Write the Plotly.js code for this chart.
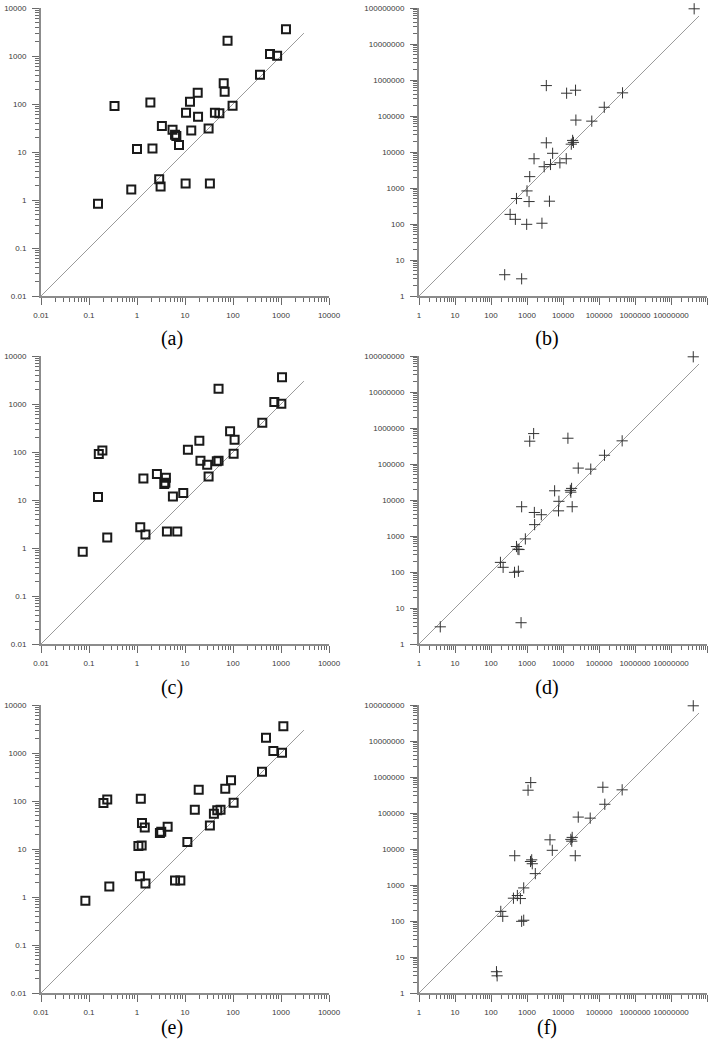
<!DOCTYPE html>
<html>
<head>
<meta charset="utf-8">
<script src="https://cdn.plot.ly/plotly-3.0.1.min.js"></script>
<style>
  html, body { margin: 0; padding: 0; background: #fff; }
  #wrap { position: relative; width: 721px; height: 1049px; overflow: hidden; }
  .panel { position: absolute; }
  .cap {
    position: absolute; transform: translate(-50%, -50%);
    font-family: 'Liberation Serif', 'Times New Roman', serif; font-size: 20px; color: #000;
    line-height: 1; white-space: nowrap;
  }
</style>
</head>
<body>
<div id="wrap"></div>
<script>
// Left column (a, c, e): shared measured values against three estimates
const leftY  = [0.84, 1.65, 1.9, 2.2, 2.2, 2.7, 11.6, 11.8, 14, 21.5, 23, 28, 29, 31, 35, 54, 64, 66, 66, 91, 92, 107, 112, 172, 181, 270, 408, 1016, 1100, 2085, 3590];
const leftXa = [0.154, 0.76, 3.1, 10.3, 33, 2.9, 1.0, 2.1, 7.5, 6.6, 6.2, 13.5, 5.5, 31, 3.3, 18.7, 52, 42, 10.5, 0.34, 98, 1.9, 12.7, 18.4, 67, 64, 365, 830, 590, 77, 1270];
const leftXc = [0.074, 0.24, 1.5, 4.2, 6.9, 1.17, 0.154, 5.6, 9.2, 3.7, 3.9, 1.36, 4.0, 31, 2.6, 29, 46, 50, 21, 0.16, 103, 0.19, 11.5, 19.9, 108, 87, 408, 1016, 726, 50, 1050];
const leftXe = [0.084, 0.265, 1.5, 6.2, 8.0, 1.15, 1.07, 1.25, 11.2, 3.0, 3.2, 1.45, 4.35, 33, 1.27, 40, 47, 55, 16, 0.2, 103, 0.24, 1.2, 19.3, 69, 91, 402, 1050, 692, 487, 1120];

// Right column (b, d, f): shared measured values against three estimates
const rightY  = [9.5e7, 7.0e5, 4.3e5, 5.2e5, 4.4e5, 1.75e5, 77000, 72000, 18000, 21000, 18500, 16500, 6500, 9200, 6500, 5000, 4500, 3900, 2070, 830, 510, 430, 420, 185, 135, 98, 105, 3.9, 3.0];
const rightXb = [4.4e7, 3440, 12600, 22300, 4.5e5, 1.4e5, 22800, 63000, 3440, 18500, 19500, 17000, 1570, 5150, 12300, 8200, 4500, 3000, 1190, 1000, 510, 4200, 1140, 340, 475, 980, 2600, 240, 710];
const rightXd = [4.15e7, 1530, 1190, 13700, 4.4e5, 1.42e5, 26500, 59000, 5850, 17300, 16000, 16500, 710, 7700, 18000, 7500, 1600, 2500, 1630, 900, 510, 560, 600, 183, 217, 450, 576, 684, 3.9];
const rightXf = [4.15e7, 1270, 1070, 1.28e5, 4.4e5, 1.45e5, 26500, 57000, 4350, 18000, 16500, 17500, 456, 5040, 21900, 1350, 1250, 1400, 1700, 810, 540, 420, 655, 187, 212, 710, 810, 142, 148];

// Reference y = x lines
const leftDiag  = [0.01, 3000];
const rightDiag = [1, 6e7];

// Tick labels
const leftTicks      = [0.01, 0.1, 1, 10, 100, 1000, 10000];
const leftTickText   = ['0.01', '0.1', '1', '10', '100', '1000', '10000'];
const rightTicks     = [1, 10, 100, 1000, 10000, 100000, 1000000, 10000000, 100000000];
const rightXTickText = ['1', '10', '100', '1000', '10000', '100000', '1000000', '10000000', ''];
const rightYTickText = ['1', '10', '100', '1000', '10000', '100000', '1000000', '10000000', '100000000'];

const captions = ['(a)', '(b)', '(c)', '(d)', '(e)', '(f)'];

// Each panel is its own graph: box position on the page and inner margins
const colBox = [{ left: 0, width: 360, l: 41, r: 31 }, { left: 360, width: 361, l: 59, r: 14 }];
const rowBox = [{ top: 0, height: 349, t: 8, b: 53 }, { top: 349, height: 349, t: 7, b: 54 }, { top: 698, height: 351, t: 7, b: 56 }];
const capX = [172, 547];
const capY = [338, 687, 1027];

function minorVals(lo, hi) {
  const v = [];
  for (let e = lo; e < hi; e++) {
    for (let m = 2; m <= 9; m++) v.push(m * Math.pow(10, e));
  }
  return v;
}

const panels = [
  { x: leftXa,  y: leftY,  col: 0, row: 0 },
  { x: rightXb, y: rightY, col: 1, row: 0 },
  { x: leftXc,  y: leftY,  col: 0, row: 1 },
  { x: rightXd, y: rightY, col: 1, row: 1 },
  { x: leftXe,  y: leftY,  col: 0, row: 2 },
  { x: rightXf, y: rightY, col: 1, row: 2 }
];

const tickFont = { family: 'Liberation Sans, Arial, sans-serif', size: 8, color: '#3a3a3a' };
const wrap = document.getElementById('wrap');

function axisFor(left, text, standoff) {
  return {
    type: 'log', range: left ? [-2, 4] : [0, 8],
    showline: true, linecolor: '#8c8c8c', linewidth: 2,
    ticks: 'outside', ticklen: 7, tickwidth: 1, tickcolor: '#6a6a6a',
    tickmode: 'array', tickvals: left ? leftTicks : rightTicks, ticktext: text,
    tickangle: 0, automargin: false, ticklabelstandoff: standoff,
    tickfont: tickFont, showgrid: false, zeroline: false, fixedrange: true,
    minor: {
      tickmode: 'array', tickvals: left ? minorVals(-2, 4) : minorVals(0, 8),
      ticks: 'outside', ticklen: 4, tickwidth: 1, tickcolor: '#6a6a6a', showgrid: false
    }
  };
}

panels.forEach((p, i) => {
  const left = p.col === 0;
  const cb = colBox[p.col], rb = rowBox[p.row];

  const div = document.createElement('div');
  div.className = 'panel';
  div.id = 'panel' + i;
  div.style.left = cb.left + 'px';
  div.style.top = rb.top + 'px';
  div.style.width = cb.width + 'px';
  div.style.height = rb.height + 'px';
  wrap.appendChild(div);

  const diag = left ? leftDiag : rightDiag;
  const traces = [
    { x: diag, y: diag, mode: 'lines', line: { color: '#9a9a9a', width: 1 } },
    {
      x: p.x, y: p.y, mode: 'markers', cliponaxis: false,
      marker: left
        ? { symbol: 'square-open', size: 8, color: '#1a1a1a', line: { width: 2, color: '#1a1a1a' } }
        : { symbol: 'cross-thin', size: 8, color: '#333', line: { width: 1, color: '#333' } }
    }
  ];

  const layout = {
    width: cb.width, height: rb.height,
    margin: { l: cb.l, r: cb.r, t: rb.t, b: rb.b, pad: 0 },
    paper_bgcolor: 'rgba(0,0,0,0)', plot_bgcolor: 'rgba(0,0,0,0)',
    showlegend: false,
    xaxis: axisFor(left, left ? leftTickText : rightXTickText, 3),
    yaxis: axisFor(left, left ? leftTickText : rightYTickText, 4)
  };

  Plotly.newPlot(div, traces, layout, { staticPlot: true, displayModeBar: false });

  // panel caption under each plot
  const cap = document.createElement('div');
  cap.className = 'cap';
  cap.textContent = captions[i];
  cap.style.left = capX[p.col] + 'px';
  cap.style.top = capY[p.row] + 'px';
  wrap.appendChild(cap);
});
</script>
</body>
</html>
